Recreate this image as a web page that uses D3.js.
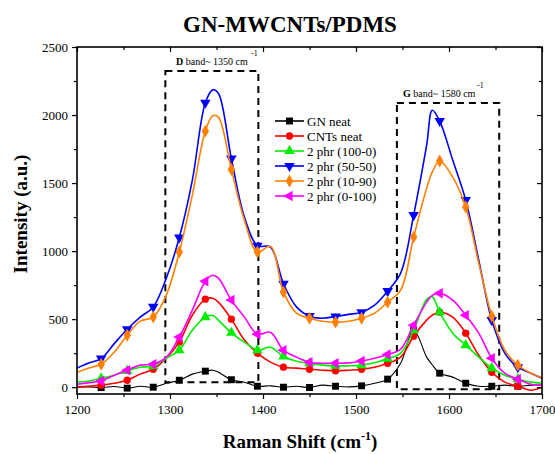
<!DOCTYPE html>
<html>
<head>
<meta charset="utf-8">
<script src="https://cdn.jsdelivr.net/npm/d3@7"></script>
<style>
  body { margin: 0; background: #fff; }
  svg { font-family: "Liberation Serif", "Times New Roman", serif; }
</style>
</head>
<body>
<script>
var width = 555;
var height = 454;
var margin = {top: 47, right: 13, bottom: 60, left: 77};

// Raman shift (cm-1) where values were read
var shift = [1200,1212,1226,1240,1254,1268,1282,1296,1310,1324,1338,1346,1352,1366,1380,1394,1408,1422,1436,1450,
             1464,1478,1492,1506,1520,1534,1548,1562,1576,1582,1590,1604,1618,1632,1646,1660,1674,1688,1700];

var gnNeat   = [0,2,-3,5,-7,7,0,29,51,96,118,125,110,55,37,7,10,0,7,-2,
                15,7,2,10,29,59,176,419,221,165,103,74,29,7,7,15,7,15,15];
var cntsNeat = [3,7,15,29,51,96,132,213,331,529,647,654,625,500,346,250,184,147,140,132,
                125,120,125,132,147,176,221,375,493,530,551,515,397,235,110,37,7,-22,0];
var phr100_0 = [39,44,66,88,120,147,155,213,272,419,515,527,493,400,331,272,294,225,191,176,
                162,157,157,162,179,210,250,419,645,665,551,397,309,221,140,88,59,37,29];
var phr50_50 = [140,176,210,320,426,515,590,800,1100,1520,2090,2185,2160,1680,1250,1040,1030,760,590,522,
                507,520,535,551,603,706,838,1265,1780,2035,1956,1669,1375,934,493,250,147,103,66];
var phr10_90 = [110,140,169,257,382,485,515,676,993,1412,1882,1995,1985,1600,1228,993,1035,700,544,507,
                485,478,485,507,544,625,713,1103,1463,1580,1662,1544,1324,912,522,272,162,103,70];
var phr0_100 = [22,32,46,88,125,162,169,221,368,566,779,823,801,640,515,390,404,272,221,184,
                176,176,179,193,213,240,280,456,625,675,691,640,529,397,213,103,59,22,15];

var seriesNames = ["GN neat", "CNTs neat", "2 phr (100-0)", "2 phr (50-50)", "2 phr (10-90)", "2 phr (0-100)"];
var seriesValues = [gnNeat, cntsNeat, phr100_0, phr50_50, phr10_90, phr0_100];
var seriesColors = ["#000000", "#ff0000", "#00ee00", "#0000ff", "#ff8000", "#ff00ff"];
var seriesSymbols = [d3.symbolSquare, d3.symbolCircle, d3.symbolTriangle, d3.symbolTriangle, d3.symbolDiamond, d3.symbolTriangle];
var seriesRotate = [0, 0, 0, 180, 0, -90];

var xTicks = [1200,1300,1400,1500,1600,1700];
var yTicks = [0,500,1000,1500,2000,2500];

// dashed band boxes [x0, x1, y0, y1] in data units
var dBox = [1295, 1395, 37, 2323];
var gBox = [1544, 1654, -15, 2088];

var x = d3.scaleLinear().domain([1200, 1700]).range([margin.left, width - margin.right]);
var y = d3.scaleLinear().domain([-50, 2500]).range([height - margin.bottom, margin.top]);

var svg = d3.select("body").append("svg")
    .attr("width", width)
    .attr("height", height);

svg.append("defs").append("clipPath").attr("id", "plotclip")
  .append("rect")
    .attr("x", margin.left).attr("y", margin.top)
    .attr("width", width - margin.left - margin.right)
    .attr("height", height - margin.top - margin.bottom);

// title
svg.append("text")
    .attr("x", 290).attr("y", 32)
    .attr("text-anchor", "middle")
    .attr("font-size", 23).attr("font-weight", "bold")
    .text("GN-MWCNTs/PDMS");

// dashed boxes
function box(b) {
  svg.append("rect")
    .attr("x", x(b[0])).attr("y", y(b[3]))
    .attr("width", x(b[1]) - x(b[0]))
    .attr("height", y(b[2]) - y(b[3]))
    .attr("fill", "none")
    .attr("stroke", "#000")
    .attr("stroke-width", 2)
    .attr("stroke-dasharray", "7,5");
}
box(dBox);
box(gBox);

// band labels
function bandLabel(letter, rest, tx, ty, sx, sy) {
  var t = svg.append("text").attr("x", tx).attr("y", ty).attr("font-size", 10);
  t.append("tspan").attr("font-weight", "bold").text(letter);
  t.append("tspan").text(rest);
  svg.append("text").attr("x", sx).attr("y", sy).attr("font-size", 8).text("-1");
}
bandLabel("D", " band~ 1350 cm", 176, 65, 251, 56);
bandLabel("G", " band~ 1580 cm", 403, 97, 477, 88);

// series
var line = d3.line()
    .x(function(d) { return x(d.x); })
    .y(function(d) { return y(d.y); })
    .curve(d3.curveCatmullRom.alpha(0.5));

var plot = svg.append("g").attr("clip-path", "url(#plotclip)");

seriesValues.forEach(function(vals, i) {
  var pts = shift.map(function(s, j) { return {x: s, y: vals[j]}; });
  plot.append("path")
    .attr("d", line(pts))
    .attr("fill", "none")
    .attr("stroke", seriesColors[i])
    .attr("stroke-width", i === 0 ? 1.1 : 1.6);
  var sym = d3.symbol().type(seriesSymbols[i]).size(i === 1 ? 42 : 48);
  plot.selectAll(".m" + i)
    .data(pts.filter(function(d) { return (d.x - 1226) % 28 === 0; }))
  .enter().append("path")
    .attr("d", sym)
    .attr("transform", function(d) { return "translate(" + x(d.x) + "," + y(d.y) + ") rotate(" + seriesRotate[i] + ")"; })
    .attr("fill", seriesColors[i]);
});

// frame + axes
var axisFont = 13;
svg.append("g")
    .attr("transform", "translate(0," + (height - margin.bottom) + ")")
    .call(d3.axisBottom(x).tickValues(xTicks).tickSize(5).tickPadding(6).tickFormat(d3.format("d")));
svg.append("g")
    .attr("transform", "translate(0," + (height - margin.bottom) + ")")
    .call(d3.axisBottom(x).tickValues(d3.range(1250, 1700, 100)).tickSize(3).tickFormat(""));
svg.append("g")
    .attr("transform", "translate(" + margin.left + ",0)")
    .call(d3.axisLeft(y).tickValues(yTicks).tickSize(5).tickPadding(4).tickFormat(d3.format("d")));
svg.append("g")
    .attr("transform", "translate(" + margin.left + ",0)")
    .call(d3.axisLeft(y).tickValues(d3.range(250, 2500, 500)).tickSize(3).tickFormat(""));
svg.append("g")
    .attr("transform", "translate(0," + margin.top + ")")
    .call(d3.axisBottom(x).tickValues(xTicks).tickSize(5).tickFormat(""));
svg.append("g")
    .attr("transform", "translate(0," + margin.top + ")")
    .call(d3.axisBottom(x).tickValues(d3.range(1250, 1700, 100)).tickSize(3).tickFormat(""));
svg.append("g")
    .attr("transform", "translate(" + (width - margin.right) + ",0)")
    .call(d3.axisLeft(y).tickValues(yTicks).tickSize(5).tickFormat(""));
svg.append("g")
    .attr("transform", "translate(" + (width - margin.right) + ",0)")
    .call(d3.axisLeft(y).tickValues(d3.range(250, 2500, 500)).tickSize(3).tickFormat(""));

svg.selectAll(".domain").attr("stroke", "none");
svg.selectAll(".tick line").attr("stroke", "#000").attr("stroke-width", 1.2);
svg.selectAll(".tick text")
    .attr("font-family", "'Liberation Serif', 'Times New Roman', serif")
    .attr("font-size", axisFont)
    .attr("fill", "#000");

svg.append("rect")
    .attr("x", margin.left).attr("y", margin.top)
    .attr("width", width - margin.left - margin.right)
    .attr("height", height - margin.top - margin.bottom)
    .attr("fill", "none").attr("stroke", "#000").attr("stroke-width", 1.6);

// axis titles
var xl = svg.append("text")
    .attr("x", 300).attr("y", 448)
    .attr("text-anchor", "middle")
    .attr("font-size", 19).attr("font-weight", "bold");
xl.append("tspan").text("Raman Shift (cm");
xl.append("tspan").attr("font-size", 12).attr("dy", -8).text("-1");
xl.append("tspan").attr("dy", 8).text(")");

svg.append("text")
    .attr("transform", "translate(27,214) rotate(-90)")
    .attr("text-anchor", "middle")
    .attr("font-size", 19).attr("font-weight", "bold")
    .text("Intensity (a.u.)");

// legend
var legend = svg.append("g");
seriesNames.forEach(function(name, i) {
  var ly = 121 + i * 15;
  legend.append("line")
    .attr("x1", 275).attr("x2", 304).attr("y1", ly).attr("y2", ly)
    .attr("stroke", seriesColors[i]).attr("stroke-width", 1.6);
  legend.append("path")
    .attr("d", d3.symbol().type(seriesSymbols[i]).size(i === 1 ? 42 : 48))
    .attr("transform", "translate(289.5," + ly + ") rotate(" + seriesRotate[i] + ")")
    .attr("fill", seriesColors[i]);
  legend.append("text")
    .attr("x", 307).attr("y", ly + 4.5)
    .attr("font-size", 13)
    .text(name);
});
</script>
</body>
</html>
